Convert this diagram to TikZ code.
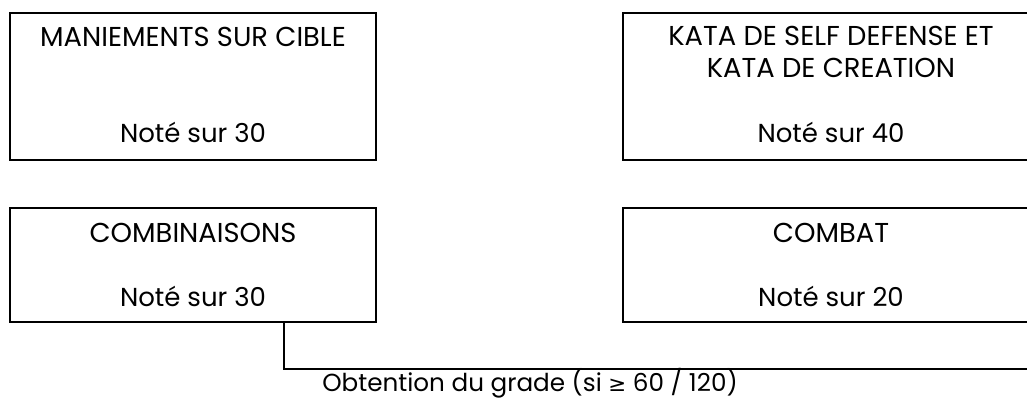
\documentclass[tikz,border=0pt]{standalone}
\usepackage{fontspec}
\setmainfont{Poppins}
\newfontfamily\symbfont{DejaVu Sans}
\usetikzlibrary{positioning}

\tikzset{
    epreuve/.style={draw=black, line width=1.5pt, rectangle, inner sep=0pt},
    titre/.style={font=\fontsize{20.5}{23.5}\selectfont, align=center, inner sep=0pt},
    note/.style={font=\fontsize{19.5}{23}\selectfont, inner sep=0pt},
}

\begin{document}
\begin{tikzpicture}[x=0.75pt, y=-0.75pt]

    \useasboundingbox (0,0) rectangle (1027,399);

    % ── Boxes ────────────────────────────────────────────────────────────────
    \node[epreuve, minimum width=366*0.75pt, minimum height=147*0.75pt] (cible)  at (193,86.5) {};
    \node[epreuve, minimum width=416*0.75pt, minimum height=147*0.75pt] (kata)   at (831,86.5) {};
    \node[epreuve, minimum width=366*0.75pt, minimum height=114*0.75pt] (comb)   at (193,265)  {};
    \node[epreuve, minimum width=416*0.75pt, minimum height=114*0.75pt] (combat) at (831,265)  {};

    % ── Texts ────────────────────────────────────────────────────────────────
    \node[titre] (cibleT)  at (193,37) {MANIEMENTS SUR CIBLE};
    \node[note]  (cibleN)  at (193,132) {Noté sur 30};
    \node[titre] (kataT)   at (831,52) {KATA DE SELF DEFENSE ET\\KATA DE CREATION};
    \node[note]  (kataN)   at (831,132) {Noté sur 40};
    \node[titre] (combT)   at (193,233) {COMBINAISONS};
    \node[note]  (combN)   at (193,296) {Noté sur 30};
    \node[titre] (combatT) at (831,233) {COMBAT};
    \node[note]  (combatN) at (831,296) {Noté sur 20};

    % ── Result ───────────────────────────────────────────────────────────────
    \coordinate (fin) at (1027,369);
    \draw[line width=1.5pt] ([xshift=91*0.75pt]comb.south) |- (fin);
    \node[note, font=\fontsize{18.5}{22}\selectfont] (grade) at (530,383)
        {Obtention du grade (si {\symbfont\fontsize{16}{20}\selectfont ≥} 60 / 120)};

\end{tikzpicture}
\end{document}
